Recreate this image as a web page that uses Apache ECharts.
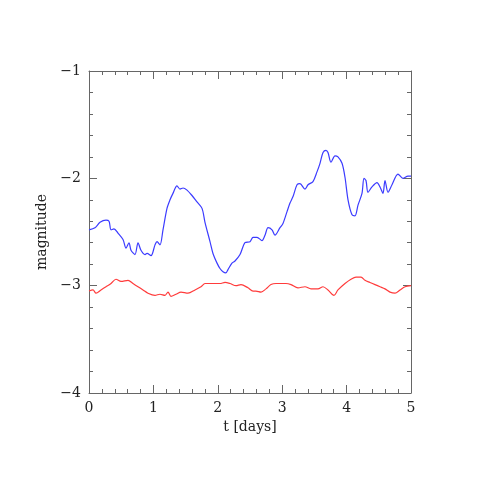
<!DOCTYPE html>
<html>
<head>
<meta charset="utf-8">
<script src="https://cdn.jsdelivr.net/npm/echarts@6/dist/echarts.min.js"></script>
<style>html,body{margin:0;padding:0;background:#fff}#c{width:480px;height:480px}</style>
</head>
<body>
<div id="c"></div>
<script>
const tBlue = [0,0.093,0.171,0.264,0.311,0.342,0.388,0.450,0.528,0.575,0.621,0.652,0.714,0.761,0.807,0.870,0.901,0.963,1.025,1.056,1.102,1.149,1.211,1.258,1.304,1.366,1.413,1.460,1.522,1.599,1.677,1.755,1.801,1.879,1.925,1.988,2.034,2.081,2.127,2.158,2.220,2.267,2.345,2.422,2.500,2.547,2.609,2.686,2.733,2.780,2.842,2.888,2.966,3.012,3.075,3.121,3.168,3.230,3.276,3.354,3.401,3.478,3.540,3.587,3.634,3.680,3.711,3.758,3.820,3.866,3.929,3.975,4.022,4.084,4.130,4.177,4.239,4.270,4.301,4.332,4.394,4.472,4.519,4.565,4.596,4.643,4.705,4.798,4.876,4.953,5.0];
const magBlue = [-2.48,-2.46,-2.41,-2.39,-2.40,-2.48,-2.47,-2.51,-2.57,-2.65,-2.60,-2.67,-2.71,-2.60,-2.67,-2.71,-2.70,-2.72,-2.62,-2.59,-2.62,-2.48,-2.28,-2.20,-2.14,-2.07,-2.10,-2.09,-2.11,-2.16,-2.22,-2.28,-2.41,-2.59,-2.70,-2.79,-2.84,-2.87,-2.88,-2.85,-2.79,-2.77,-2.71,-2.60,-2.59,-2.55,-2.55,-2.58,-2.53,-2.46,-2.48,-2.53,-2.46,-2.42,-2.31,-2.23,-2.17,-2.06,-2.05,-2.10,-2.06,-2.03,-1.94,-1.86,-1.76,-1.74,-1.76,-1.85,-1.79,-1.80,-1.86,-1.99,-2.20,-2.34,-2.35,-2.25,-2.14,-2.00,-2.02,-2.13,-2.08,-2.04,-2.08,-2.14,-2.02,-2.13,-2.06,-1.96,-2.00,-1.98,-1.98];
const tRed = [0,0.062,0.109,0.186,0.264,0.342,0.419,0.497,0.606,0.683,0.761,0.839,0.916,1.025,1.102,1.180,1.227,1.273,1.351,1.429,1.537,1.646,1.739,1.801,1.879,1.957,2.034,2.112,2.189,2.283,2.360,2.469,2.547,2.593,2.671,2.748,2.826,2.904,2.981,3.059,3.137,3.245,3.354,3.447,3.556,3.634,3.711,3.804,3.866,3.975,4.068,4.146,4.224,4.286,4.363,4.441,4.519,4.596,4.674,4.752,4.829,4.907,5.0];
const magRed = [-3.05,-3.04,-3.07,-3.04,-3.01,-2.98,-2.94,-2.96,-2.95,-2.98,-3.01,-3.04,-3.07,-3.09,-3.08,-3.09,-3.06,-3.10,-3.08,-3.06,-3.07,-3.04,-3.01,-2.98,-2.98,-2.98,-2.98,-2.97,-2.98,-3.00,-2.99,-3.02,-3.05,-3.05,-3.06,-3.03,-2.99,-2.98,-2.98,-2.98,-2.99,-3.02,-3.01,-3.03,-3.03,-3.01,-3.04,-3.09,-3.04,-2.98,-2.94,-2.92,-2.92,-2.95,-2.97,-2.99,-3.01,-3.03,-3.06,-3.07,-3.04,-3.01,-3.00];

const FONT = 'DejaVu Serif';
const axisCol = '#666';
const pair = (t, m) => t.map((v, i) => [v, m[i]]);
const fmtMinus = v => (v < 0 ? '\u2212' + Math.abs(v) : String(v));

const mkTick = () => ({show: true, inside: true, length: 8, lineStyle: {color: axisCol, width: 1}});
const mkMinor = () => ({show: true, splitNumber: 5, length: 4, lineStyle: {color: axisCol, width: 1}});
const mkLine = () => ({show: true, onZero: false, lineStyle: {color: axisCol, width: 1}});

const chart = echarts.init(document.getElementById('c'), null, {renderer: 'canvas'});
chart.setOption({
  animation: false,
  backgroundColor: '#fff',
  grid: {left: 89, right: 69, top: 71, bottom: 87, containLabel: false},
  xAxis: [
    {type: 'value', min: 0, max: 5, interval: 1, position: 'bottom',
     name: 't [days]', nameLocation: 'middle', nameGap: 26,
     nameTextStyle: {fontFamily: FONT, fontSize: 14, color: '#222'},
     axisLine: mkLine(), axisTick: mkTick(), minorTick: mkMinor(), splitLine: {show: false},
     axisLabel: {fontFamily: FONT, fontSize: 14, color: '#222', margin: 8, formatter: fmtMinus}},
    {type: 'value', min: 0, max: 5, interval: 1, position: 'top',
     axisLine: mkLine(), axisTick: mkTick(), minorTick: mkMinor(), splitLine: {show: false},
     axisLabel: {show: false}}
  ],
  yAxis: [
    {type: 'value', min: -4, max: -1, interval: 1, position: 'left',
     name: 'magnitude', nameLocation: 'middle', nameGap: 38, nameRotate: 90,
     nameTextStyle: {fontFamily: FONT, fontSize: 14, color: '#222'},
     axisLine: mkLine(), axisTick: mkTick(), minorTick: mkMinor(), splitLine: {show: false},
     axisLabel: {fontFamily: FONT, fontSize: 14, color: '#222', margin: 8, formatter: fmtMinus}},
    {type: 'value', min: -4, max: -1, interval: 1, position: 'right',
     axisLine: mkLine(), axisTick: mkTick(), minorTick: mkMinor(), splitLine: {show: false},
     axisLabel: {show: false}}
  ],
  series: [
    {type: 'line', name: 'blue', data: pair(tBlue, magBlue), xAxisIndex: 0, yAxisIndex: 0,
     showSymbol: false, smooth: 0.3, lineStyle: {color: '#3b3bff', width: 1.2}},
    {type: 'line', name: 'red', data: pair(tRed, magRed), xAxisIndex: 0, yAxisIndex: 0,
     showSymbol: false, smooth: 0.3, lineStyle: {color: '#ff3b3b', width: 1.2}}
  ]
});
</script>
</body>
</html>
